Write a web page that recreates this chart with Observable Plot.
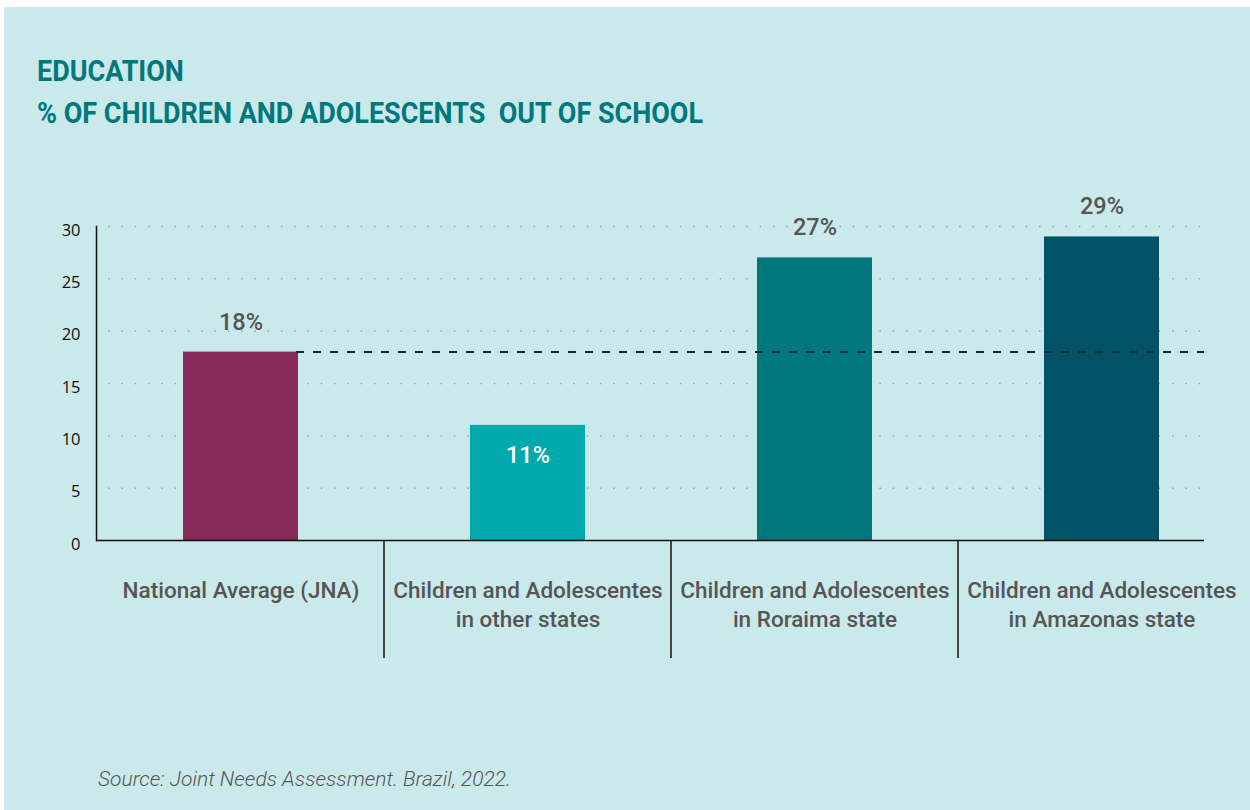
<!DOCTYPE html>
<html>
<head>
<meta charset="utf-8">
<script src="https://cdn.jsdelivr.net/npm/d3@7"></script>
<script src="https://cdn.jsdelivr.net/npm/@observablehq/plot@0.6"></script>
<style>
  body { margin: 0; background: #ffffff; width: 1250px; height: 810px; position: relative; overflow: hidden; }
  #panel { position: absolute; left: 4px; top: 7px; width: 1246px; height: 803px; background: #cae9ea; }
  #title { position: absolute; left: 37px; top: 50px; font-family: Roboto, sans-serif; font-weight: 700; font-size: 30px; line-height: 42px; color: #00787c; white-space: pre; transform-origin: 0 0; }
  #chart { position: absolute; left: 0; top: 0; }
  #source { position: absolute; left: 98px; top: 767px; font-family: Roboto, sans-serif; font-style: italic; font-weight: 300; font-size: 21px; line-height: 24px; color: #555555; white-space: nowrap; }
</style>
</head>
<body>
<div id="panel"></div>
<div id="title">EDUCATION
% OF CHILDREN AND ADOLESCENTS  OUT OF SCHOOL</div>
<div id="chart"></div>
<div id="source">Source: Joint Needs Assessment. Brazil, 2022.</div>
<script>
const categories = [
  "National Average (JNA)",
  "Children and Adolescentes in other states",
  "Children and Adolescentes in Roraima state",
  "Children and Adolescentes in Amazonas state"
];
const tickLabels = [
  "National Average (JNA)",
  "Children and Adolescentes\nin other states",
  "Children and Adolescentes\nin Roraima state",
  "Children and Adolescentes\nin Amazonas state"
];
const values = [18, 11, 27, 29];
const valueLabels = ["18%", "11%", "27%", "29%"];
const labelInside = [false, true, false, false];
const barColors = ["#872a5a", "#00a9ae", "#00787d", "#005266"];
const yTicks = [0, 5, 10, 15, 20, 25, 30];
const nationalAverage = 18;

const data = categories.map((c, i) => ({
  category: c, value: values[i], label: valueLabels[i], inside: labelInside[i], color: barColors[i]
}));

const chart = Plot.plot({
  width: 1250,
  height: 700,
  marginLeft: 96,
  marginRight: 4,
  marginTop: 226,
  marginBottom: 160,
  style: { background: "transparent", overflow: "visible" },
  x: { domain: categories, paddingInner: 0.6, paddingOuter: 0.3, axis: null },
  y: { domain: [0, 30], axis: null },
  marks: [
    Plot.ruleY(yTicks.filter(t => t > 0), { stroke: "#93a7a8", strokeWidth: 1.5, strokeDasharray: "1.5,11.8", insetLeft: 12, insetRight: 45 }),
    Plot.barY(data, { x: "category", y: "value", fill: "color" }),
    Plot.ruleY([nationalAverage], { stroke: "#0d2a3a", strokeWidth: 2, strokeDasharray: "8,9", insetLeft: 200, insetRight: 42 }),
    Plot.ruleY([0], { stroke: "#111111", strokeWidth: 1.5, insetRight: 42 }),
    Plot.frame({ anchor: "left", stroke: "#111111", strokeWidth: 1.5 }),
    Plot.text(data.filter(d => !d.inside), { x: "category", y: "value", text: "label", dy: -30, fill: "#555555", fontSize: 23.5, fontWeight: 500, fontFamily: "Roboto" }),
    Plot.text(data.filter(d => d.inside), { x: "category", y: "value", text: "label", dy: 30, fill: "#ffffff", fontSize: 23.5, fontWeight: 500, fontFamily: "Roboto" }),
    Plot.axisY({ ticks: yTicks, label: null, tickSize: 0, tickPadding: 16, fontSize: 16.5, fill: "#111111", fontFamily: "Open Sans", dy: 4 }),
    Plot.axisX({ label: null, tickSize: 0, tickPadding: 38, tickFormat: d => tickLabels[categories.indexOf(d)], fontSize: 22.5, fill: "#555555", fontWeight: 500, fontFamily: "Roboto", lineHeight: 1.25 })
  ]
});
document.getElementById("chart").appendChild(chart);

// Category separators drawn from Plot's own scales
const xs = chart.scale("x");
const ys = chart.scale("y");
const svg = d3.select(chart);
const y0 = ys.apply(0);
categories.slice(1).forEach(c => {
  const px = xs.apply(c) - (xs.step - xs.bandwidth) / 2;
  svg.append("line")
    .attr("x1", px).attr("x2", px)
    .attr("y1", y0).attr("y2", y0 + 118)
    .attr("stroke", "#111111").attr("stroke-width", 1.5);
});

// Condense the title to the width of the reference's condensed face
const title = document.getElementById("title");
const w = title.getBoundingClientRect().width;
title.style.transform = `scaleX(${666 / w})`;
</script>
</body>
</html>
